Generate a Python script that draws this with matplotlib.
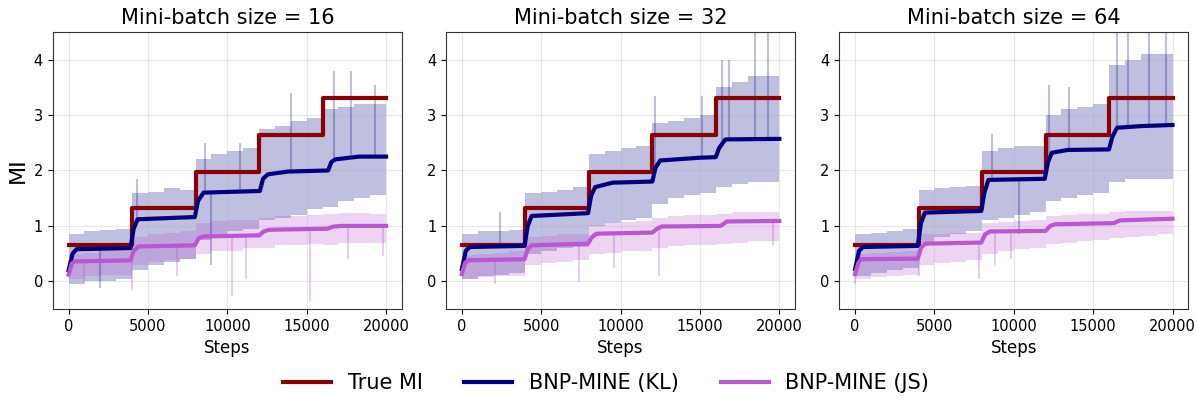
import numpy as np
import matplotlib
matplotlib.use("Agg")
import matplotlib.pyplot as plt

batch_sizes = [16, 32, 64]

# true MI (step function)
mi_steps = [0, 4000, 8000, 12000, 16000, 20000]
mi_vals = [0.66, 1.32, 1.98, 2.64, 3.30]

# raw estimates, read as upper / lower envelopes per 1000-step bin
bin_edges = list(range(0, 21000, 1000))
kl_hi = [
    [0.85, 0.9, 0.92, 0.95, 1.6, 1.62, 1.68, 1.65, 2.2, 2.3, 2.35, 2.4, 2.75, 2.8, 2.9, 2.95, 3.1, 3.15, 3.2, 3.2],
    [0.85, 0.9, 0.9, 0.92, 1.6, 1.62, 1.65, 1.7, 2.3, 2.35, 2.4, 2.45, 2.85, 2.9, 2.95, 3.0, 3.5, 3.6, 3.7, 3.7],
    [0.85, 0.88, 0.9, 0.95, 1.65, 1.68, 1.7, 1.72, 2.35, 2.4, 2.45, 2.45, 3.0, 3.1, 3.15, 3.2, 3.9, 4.0, 4.1, 4.1],
]
kl_lo = [
    [-0.05, 0.0, 0.0, 0.05, 0.2, 0.3, 0.35, 0.4, 0.75, 0.85, 0.9, 0.95, 1.1, 1.15, 1.2, 1.3, 1.35, 1.45, 1.5, 1.55],
    [0.05, 0.1, 0.12, 0.15, 0.5, 0.55, 0.6, 0.62, 1.0, 1.05, 1.1, 1.15, 1.4, 1.5, 1.55, 1.6, 1.7, 1.75, 1.8, 1.8],
    [0.1, 0.15, 0.2, 0.25, 0.7, 0.8, 0.85, 0.9, 1.1, 1.15, 1.2, 1.25, 1.45, 1.5, 1.55, 1.6, 1.8, 1.85, 1.85, 1.85],
]
js_hi = [
    [0.5, 0.52, 0.55, 0.55, 0.8, 0.85, 0.88, 0.9, 1.05, 1.08, 1.1, 1.1, 1.15, 1.17, 1.18, 1.2, 1.22, 1.23, 1.23, 1.22],
    [0.48, 0.5, 0.52, 0.55, 0.8, 0.82, 0.85, 0.85, 1.02, 1.05, 1.07, 1.08, 1.15, 1.18, 1.2, 1.2, 1.22, 1.25, 1.25, 1.25],
    [0.5, 0.52, 0.53, 0.55, 0.85, 0.86, 0.88, 0.88, 1.05, 1.07, 1.08, 1.1, 1.18, 1.2, 1.22, 1.22, 1.25, 1.27, 1.27, 1.27],
]
js_lo = [
    [0.05, 0.1, 0.12, 0.12, 0.3, 0.35, 0.38, 0.4, 0.5, 0.55, 0.55, 0.6, 0.6, 0.65, 0.65, 0.68, 0.65, 0.7, 0.7, 0.7],
    [0.05, 0.08, 0.1, 0.1, 0.3, 0.33, 0.35, 0.38, 0.5, 0.52, 0.55, 0.55, 0.6, 0.63, 0.65, 0.65, 0.68, 0.7, 0.72, 0.72],
    [0.05, 0.08, 0.1, 0.12, 0.3, 0.33, 0.35, 0.38, 0.5, 0.55, 0.58, 0.6, 0.68, 0.7, 0.72, 0.75, 0.78, 0.8, 0.82, 0.85],
]

# single spikes of the raw traces (step, value)
kl_spikes = [
    [(4300, 1.85), (8600, 2.5), (10800, 2.5), (14000, 3.4), (16700, 3.8), (17800, 3.8), (19300, 3.55), (2000, -0.12), (9000, 0.3)],
    [(2400, 1.25), (12200, 3.35), (15100, 3.35), (16400, 4.0), (16800, 4.0), (18500, 4.5), (19300, 4.5)],
    [(8600, 2.65), (12200, 3.55), (13500, 3.5), (16500, 4.5), (17200, 4.5), (18500, 4.5), (19600, 4.5), (10300, 0.85)],
]
js_spikes = [
    [(1000, -0.05), (4000, -0.15), (6800, 0.1), (10300, -0.27), (11200, 0.05), (15200, -0.35), (17600, 0.4), (19800, 0.45)],
    [(2100, -0.05), (7400, -0.02), (9600, 0.25), (12400, 0.1), (19600, 0.65)],
    [(0, -0.05), (4000, 0.1), (7800, 0.05), (8800, 0.3), (9800, 0.4)],
]

# smoothed estimates
kl_x = [
    [0, 250, 500, 3900, 4100, 4350, 7950, 8150, 8500, 12050, 12250, 12550, 13800, 16350, 16550, 16800, 18300, 20000],
    [0, 250, 500, 3950, 4150, 4400, 7950, 8150, 8400, 9500, 12000, 12200, 12500, 15000, 16000, 16200, 16600, 20000],
    [0, 250, 500, 3950, 4150, 4400, 7950, 8150, 8400, 11950, 12150, 12400, 13400, 16000, 16200, 16500, 18000, 20000],
]
kl_y = [
    [0.2, 0.5, 0.58, 0.6, 0.95, 1.12, 1.16, 1.45, 1.6, 1.63, 1.85, 1.93, 1.98, 2.0, 2.15, 2.2, 2.25, 2.25],
    [0.22, 0.55, 0.62, 0.64, 1.0, 1.18, 1.23, 1.55, 1.7, 1.78, 1.8, 2.05, 2.18, 2.23, 2.24, 2.4, 2.56, 2.57],
    [0.22, 0.55, 0.62, 0.64, 1.05, 1.24, 1.27, 1.6, 1.83, 1.85, 2.15, 2.32, 2.37, 2.38, 2.6, 2.77, 2.8, 2.82],
]
js_x = [
    [0, 200, 400, 3900, 4100, 4400, 7950, 8200, 8500, 12000, 12300, 12600, 16300, 16700, 17200, 20000],
    [0, 200, 400, 3950, 4150, 4400, 7950, 8200, 8500, 12000, 12300, 12600, 16300, 16700, 20000],
    [0, 200, 400, 3950, 4150, 4400, 7950, 8200, 8500, 12000, 12300, 12600, 16300, 16700, 20000],
]
js_y = [
    [0.12, 0.32, 0.36, 0.38, 0.55, 0.63, 0.65, 0.78, 0.81, 0.83, 0.9, 0.93, 0.95, 0.99, 1.0, 1.0],
    [0.13, 0.33, 0.38, 0.4, 0.58, 0.65, 0.68, 0.8, 0.86, 0.88, 0.95, 0.99, 1.0, 1.08, 1.09],
    [0.13, 0.33, 0.4, 0.41, 0.6, 0.68, 0.7, 0.85, 0.9, 0.91, 1.0, 1.03, 1.05, 1.1, 1.13],
]

c_mi = "darkred"
c_kl = "navy"
c_js = "mediumorchid"

fig, axes = plt.subplots(1, 3, figsize=(11.98, 4.03), dpi=100)
fig.subplots_adjust(left=0.044, right=0.992, top=0.921, bottom=0.233, wspace=0.126)

for i, ax in enumerate(axes):
    # raw traces as bands
    ax.fill_between(bin_edges, kl_lo[i] + [kl_lo[i][-1]], kl_hi[i] + [kl_hi[i][-1]],
                    step="post", color=c_kl, alpha=0.25, lw=0)
    ax.fill_between(bin_edges, js_lo[i] + [js_lo[i][-1]], js_hi[i] + [js_hi[i][-1]],
                    step="post", color=c_js, alpha=0.25, lw=0)
    for s, v in kl_spikes[i]:
        ax.vlines(s, np.interp(s, kl_x[i], kl_y[i]), v, color=c_kl, alpha=0.25, lw=1.5)
    for s, v in js_spikes[i]:
        ax.vlines(s, np.interp(s, js_x[i], js_y[i]), v, color=c_js, alpha=0.3, lw=1.5)

    ax.plot(mi_steps, mi_vals + [mi_vals[-1]], drawstyle="steps-post", color=c_mi, lw=3, label="True MI")
    ax.plot(kl_x[i], kl_y[i], color=c_kl, lw=3, label="BNP-MINE (KL)")
    ax.plot(js_x[i], js_y[i], color=c_js, lw=3, label="BNP-MINE (JS)")

    ax.set_ylim(-0.5, 4.5)
    ax.set_xticks([0, 5000, 10000, 15000, 20000])
    ax.set_yticks([0, 1, 2, 3, 4])
    ax.grid(True, alpha=0.3)
    ax.set_title("Mini-batch size = %d" % batch_sizes[i], fontsize=15)
    ax.set_xlabel("Steps", fontsize=12)
    ax.tick_params(labelsize=10.5)
    for sp in ax.spines.values():
        sp.set_color("#333333")

axes[0].set_ylabel("MI", fontsize=16)

handles, labels = axes[0].get_legend_handles_labels()
fig.legend(handles, labels, loc="center", bbox_to_anchor=(0.506, 0.05), ncol=3,
           frameon=False, fontsize=15, columnspacing=2.0, handlelength=2.3)

plt.savefig("out.png", dpi=100)
